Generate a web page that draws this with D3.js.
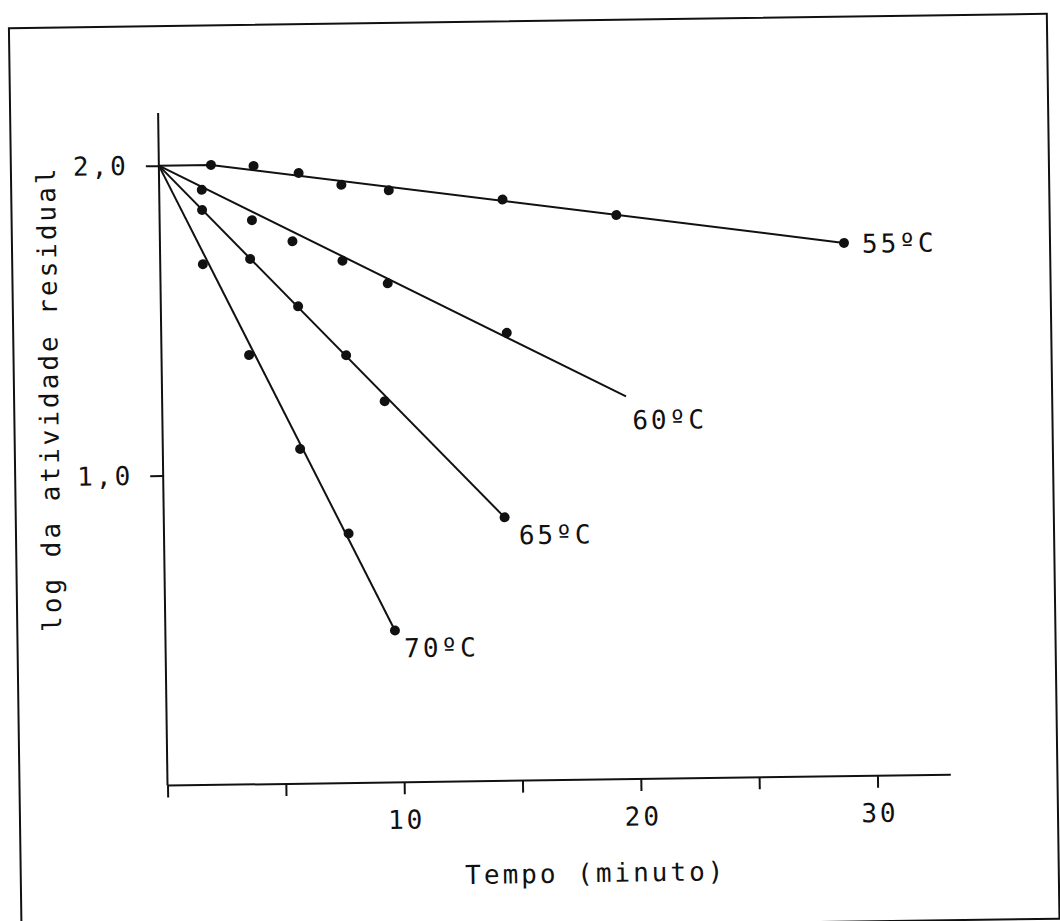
<!DOCTYPE html>
<html>
<head>
<meta charset="utf-8">
<script src="https://cdn.jsdelivr.net/npm/d3@7"></script>
<style>
  html, body { margin: 0; padding: 0; background: #fff; }
  svg { display: block; }
  text { font-family: "DejaVu Sans Mono", "Liberation Mono", monospace; fill: #111; }
</style>
</head>
<body>
<svg id="chart" width="1060" height="921"></svg>
<script>
// Thermal inactivation: log of residual activity vs. time at four temperatures
const seriesNames = ["55ºC", "60ºC", "65ºC", "70ºC"];

const times55 = [2.2, 4.0, 5.9, 7.7, 9.7, 14.5, 19.3, 28.9];
const vals55  = [2.00, 1.995, 1.97, 1.93, 1.91, 1.875, 1.82, 1.72];
const times60 = [1.8, 3.9, 5.6, 7.7, 9.6, 14.6];
const vals60  = [1.92, 1.82, 1.75, 1.685, 1.61, 1.445];
const times65 = [1.8, 3.8, 5.8, 7.8, 9.4, 14.4];
const vals65  = [1.855, 1.695, 1.54, 1.38, 1.23, 0.85];
const times70 = [1.8, 3.7, 5.8, 7.8, 9.7];
const vals70  = [1.68, 1.385, 1.08, 0.805, 0.49];

// fitted lines (vertices in data units)
const fitTimes55 = [0, 2.2, 28.9];
const fitVals55  = [2.0, 2.0, 1.72];
const fitTimes60 = [0, 19.6];
const fitVals60  = [2.0, 1.235];
const fitTimes65 = [0, 14.4];
const fitVals65  = [2.0, 0.85];
const fitTimes70 = [0, 9.7];
const fitVals70  = [2.0, 0.49];

const xTicks = [0, 5, 10, 15, 20, 25, 30];
const xTickLabels = ["", "", "10", "", "20", "", "30"];
const yTicks = [1.0, 2.0];
const yTickLabels = ["1,0", "2,0"];

const xTitle = "Tempo (minuto)";
const yTitle = "log da atividade residual";

const series = [
  { name: seriesNames[0], t: times55, v: vals55, ft: fitTimes55, fv: fitVals55, lab: [18, 10] },
  { name: seriesNames[1], t: times60, v: vals60, ft: fitTimes60, fv: fitVals60, lab: [6, 33] },
  { name: seriesNames[2], t: times65, v: vals65, ft: fitTimes65, fv: fitVals65, lab: [14, 27] },
  { name: seriesNames[3], t: times70, v: vals70, ft: fitTimes70, fv: fitVals70, lab: [9, 27] }
];

const svg = d3.select("#chart");
const root = svg.append("g").attr("transform", "rotate(-0.8 530 460)");

const x = d3.scaleLinear().domain([0, 30]).range([163, 873]);
const y = d3.scaleLinear().domain([0, 2]).range([780.5, 160.5]);
const xMax = 33.1, yMax = 2.17;

const FS = 26, LS = 3;

// page frame
root.append("rect")
  .attr("x", 15).attr("y", 21).attr("width", 1038).attr("height", 905)
  .attr("fill", "none").attr("stroke", "#111").attr("stroke-width", 2);

// axis lines
root.append("line")
  .attr("x1", x(0)).attr("x2", x(0)).attr("y1", y(yMax)).attr("y2", y(0))
  .attr("stroke", "#111").attr("stroke-width", 2);
root.append("line")
  .attr("x1", x(0)).attr("x2", x(xMax)).attr("y1", y(0)).attr("y2", y(0))
  .attr("stroke", "#111").attr("stroke-width", 2);

// x axis ticks and labels
const xAxis = root.append("g")
  .attr("transform", `translate(0,${y(0)})`)
  .call(d3.axisBottom(x).tickValues(xTicks)
    .tickFormat((d, i) => xTickLabels[i]).tickSize(12).tickPadding(16));
xAxis.select(".domain").remove();
xAxis.selectAll(".tick line").attr("stroke", "#111").attr("stroke-width", 2);
xAxis.selectAll(".tick text")
  .attr("font-size", FS).attr("letter-spacing", LS).attr("dx", LS / 2)
  .style("font-family", "DejaVu Sans Mono").attr("fill", "#111");

// y axis ticks and labels
const yAxis = root.append("g")
  .attr("transform", `translate(${x(0)},0)`)
  .call(d3.axisLeft(y).tickValues(yTicks)
    .tickFormat((d, i) => yTickLabels[i]).tickSize(13).tickPadding(20));
yAxis.select(".domain").remove();
yAxis.selectAll(".tick line").attr("stroke", "#111").attr("stroke-width", 2);
yAxis.selectAll(".tick text")
  .attr("font-size", FS).attr("letter-spacing", LS).attr("dx", LS)
  .style("font-family", "DejaVu Sans Mono").attr("fill", "#111");

// axis titles
root.append("text")
  .attr("x", 590).attr("y", 883)
  .attr("text-anchor", "middle")
  .attr("font-size", FS).attr("letter-spacing", LS)
  .text(xTitle);

root.append("text")
  .attr("transform", "translate(59,392) rotate(-90)")
  .attr("text-anchor", "middle")
  .attr("font-size", FS).attr("letter-spacing", LS)
  .text(yTitle);

// fitted lines, points and temperature labels
const line = d3.line().x(d => x(d[0])).y(d => y(d[1]));

series.forEach(s => {
  const g = root.append("g");
  g.append("path")
    .attr("d", line(s.ft.map((t, i) => [t, s.fv[i]])))
    .attr("fill", "none").attr("stroke", "#111").attr("stroke-width", 2);
  g.selectAll("circle")
    .data(s.t.map((t, i) => [t, s.v[i]]))
    .join("circle")
    .attr("cx", d => x(d[0])).attr("cy", d => y(d[1]))
    .attr("r", 5).attr("fill", "#111");
  const lt = s.ft[s.ft.length - 1], lv = s.fv[s.fv.length - 1];
  g.append("text")
    .attr("x", x(lt) + s.lab[0]).attr("y", y(lv) + s.lab[1])
    .attr("font-size", FS).attr("letter-spacing", LS)
    .text(s.name);
});
</script>
</body>
</html>
